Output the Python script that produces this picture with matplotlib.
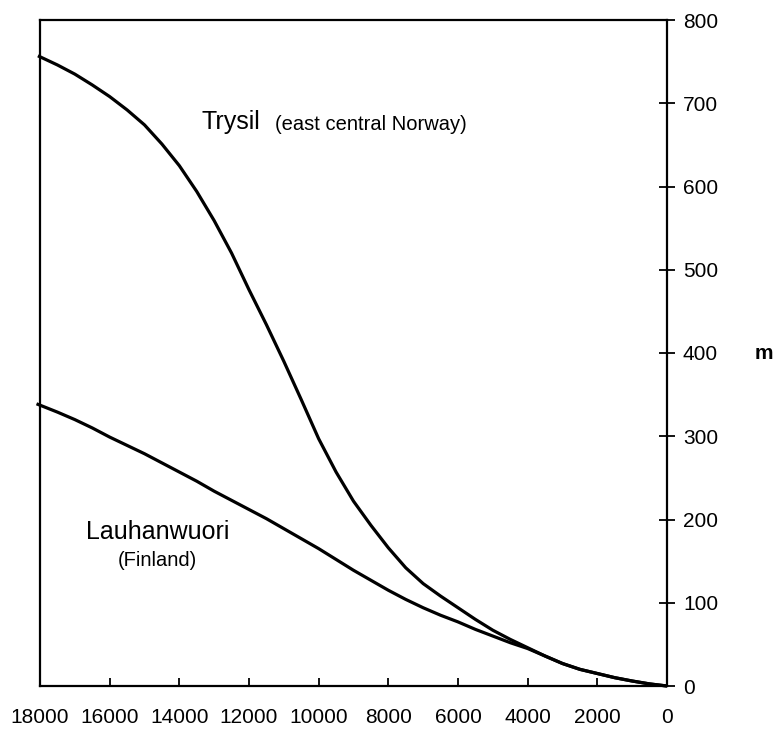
import matplotlib
matplotlib.use("Agg")
import matplotlib.pyplot as plt

plt.rcParams["font.family"] = ["Liberation Sans", "DejaVu Sans"]

# years before present (x) and height in m (y)
trysil_years = [18060, 17500, 17000, 16500, 16000, 15500, 15000, 14500, 14000,
                13500, 13000, 12500, 12000, 11500, 11000, 10500, 10000, 9500,
                9000, 8500, 8000, 7500, 7000, 6500, 6000, 5500, 5000, 4500,
                4000, 3500, 3000, 2500, 2000, 1500, 1000, 500, 0]
trysil_m = [757, 746, 735, 722, 708, 692, 674, 651, 625,
            594, 559, 520, 476, 434, 390, 344, 297, 257,
            222, 193, 166, 142, 123, 108, 94, 80, 67, 56,
            46, 36, 27, 20, 15, 10, 6, 2.5, 0]

lauhan_years = [18100, 17500, 17000, 16500, 16000, 15500, 15000, 14500, 14000,
                13500, 13000, 12500, 12000, 11500, 11000, 10500, 10000, 9500,
                9000, 8500, 8000, 7500, 7000, 6500, 6000, 5500, 5000, 4500,
                4000, 3500, 3000, 2500, 2000, 1500, 1000, 500, 0]
lauhan_m = [339, 329, 320, 310, 299, 289, 279, 268, 257,
            246, 234, 223, 212, 201, 189, 177, 165, 152,
            139, 127, 115, 104, 94, 85, 77, 68, 60, 52,
            45, 36, 27, 20, 15, 10, 6, 2.5, 0]

x_ticks = [18000, 16000, 14000, 12000, 10000, 8000, 6000, 4000, 2000, 0]
y_ticks = [0, 100, 200, 300, 400, 500, 600, 700, 800]

fig = plt.figure(figsize=(7.77, 7.29), dpi=100)
ax = fig.add_axes([40 / 777, 1 - 686 / 729, 627 / 777, 666 / 729])

ax.plot(trysil_years, trysil_m, color="black", lw=2.3, clip_on=False,
        solid_capstyle="butt")
ax.plot(lauhan_years, lauhan_m, color="black", lw=2.3, clip_on=False,
        solid_capstyle="butt")

ax.set_xlim(18000, 0)
ax.set_ylim(0, 800)
ax.set_xticks(x_ticks)
ax.set_xticklabels([str(t) for t in x_ticks])
ax.set_yticks(y_ticks)

ax.yaxis.tick_right()
ax.tick_params(axis="y", direction="inout", length=11, width=1.3,
               labelsize=15, pad=6)
ax.tick_params(axis="x", direction="in", length=6, width=1.3,
               labelsize=15, pad=16)

for s in ax.spines.values():
    s.set_linewidth(1.6)

ax.text(13350, 677, "Trysil", fontsize=18, ha="left", va="center")
ax.text(11250, 675, "(east central Norway)", fontsize=14.5, ha="left",
        va="center")
ax.text(14630, 185, "Lauhanwuori", fontsize=18, ha="center", va="center")
ax.text(14630, 151, "(Finland)", fontsize=14.5, ha="center", va="center")

fig.text(764 / 777, 1 - 353 / 729, "m", fontsize=15, fontweight="bold",
         ha="center", va="center")

fig.savefig("out.png", dpi=100)
